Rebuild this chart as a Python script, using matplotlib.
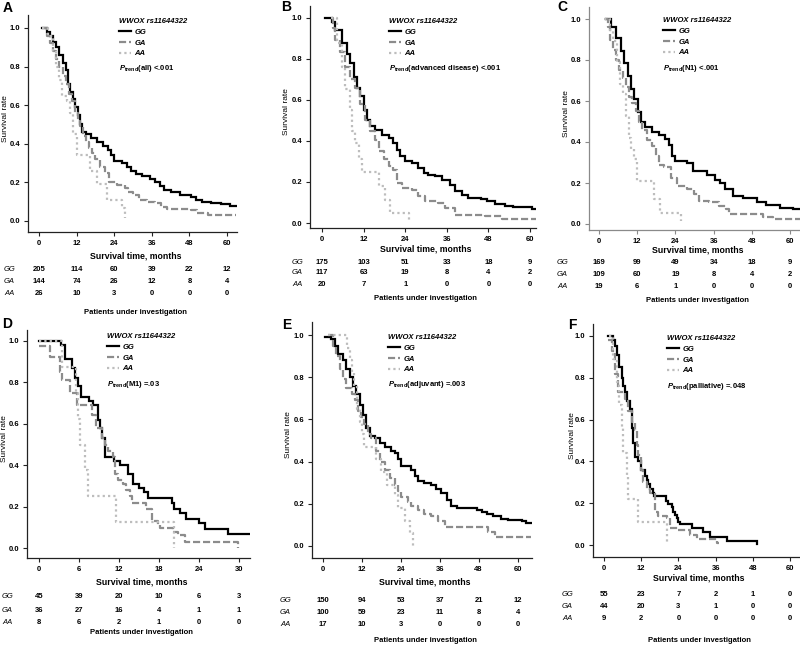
import matplotlib
matplotlib.use("Agg")
import matplotlib.pyplot as plt
from matplotlib.transforms import blended_transform_factory

plt.rcParams['font.family'] = ['Liberation Sans', 'DejaVu Sans']
plt.rcParams['mathtext.fontset'] = 'custom'
plt.rcParams['mathtext.it'] = 'Liberation Sans:italic:bold'
plt.rcParams['mathtext.rm'] = 'Liberation Sans:bold'

W, H = 800, 646

genotypes = ["GG", "GA", "AA"]
snp_title = "WWOX rs11644322"

# ---------------- A: all patients
a_gg_t = [1.0, 2.5, 3.5, 4.5, 5.5, 6.5, 7.5, 8.5, 9.3, 10.0, 10.8, 11.5, 12.3, 13.0, 13.8, 15.0, 16.5, 18.5, 20.5,
          22.0, 23.0, 24.0, 26.5, 28.0, 29.5, 31.0, 33.0, 35.5, 37.0, 38.5, 40.0, 42.0, 45.0, 48.5, 50.0, 52.0, 55.0,
          58.0, 61.0, 63.0]
a_gg_s = [1.0, 0.98, 0.96, 0.93, 0.90, 0.86, 0.82, 0.78, 0.71, 0.67, 0.63, 0.59, 0.55, 0.50, 0.46, 0.45, 0.43, 0.41,
          0.39, 0.37, 0.34, 0.31, 0.30, 0.28, 0.26, 0.245, 0.235, 0.22, 0.20, 0.18, 0.16, 0.15, 0.135, 0.125, 0.11,
          0.10, 0.095, 0.088, 0.078, 0.078]
a_ga_t = [1.0, 2.5, 3.5, 4.5, 5.5, 6.5, 7.5, 8.5, 9.5, 10.5, 11.5, 12.3, 13.0, 14.0, 15.0, 16.0, 17.0, 18.0, 19.5,
          21.0, 22.5, 25.0, 27.5, 28.5, 30.0, 32.0, 34.5, 37.0, 39.0, 41.0, 48.5, 50.5, 54.0, 63.0]
a_ga_s = [1.0, 0.96, 0.92, 0.88, 0.84, 0.80, 0.75, 0.71, 0.66, 0.62, 0.56, 0.52, 0.49, 0.44, 0.41, 0.38, 0.35, 0.32,
          0.28, 0.25, 0.20, 0.185, 0.17, 0.15, 0.135, 0.11, 0.10, 0.095, 0.074, 0.062, 0.057, 0.043, 0.031, 0.031]
a_aa_t = [1.0, 3.0, 4.5, 5.5, 6.5, 7.2, 8.8, 9.8, 10.9, 12.0, 16.2, 18.4, 21.6, 26.4, 27.4]
a_aa_s = [1.0, 0.96, 0.88, 0.80, 0.73, 0.65, 0.62, 0.56, 0.45, 0.34, 0.26, 0.19, 0.11, 0.065, 0.014]
a_risk = {"GG": [205, 114, 60, 39, 22, 12], "GA": [144, 74, 26, 12, 8, 4], "AA": [26, 10, 3, 0, 0, 0]}

# ---------------- B: advanced disease
b_gg_t = [1.0, 2.9, 3.8, 5.8, 7.2, 8.2, 9.1, 10.1, 11.0, 12.0, 13.0, 13.9, 15.4, 17.3, 19.2, 20.6, 21.6, 22.6, 24.0,
          26.0, 27.8, 29.3, 30.7, 32.6, 34.5, 37.0, 38.4, 40.3, 42.2, 46.0, 47.5, 50.0, 52.8, 55.0, 60.5, 62.0]
b_gg_s = [1.0, 0.98, 0.94, 0.875, 0.82, 0.78, 0.71, 0.656, 0.616, 0.55, 0.50, 0.47, 0.454, 0.43, 0.413, 0.39, 0.357,
          0.324, 0.30, 0.29, 0.267, 0.243, 0.235, 0.227, 0.21, 0.186, 0.154, 0.138, 0.12, 0.117, 0.105, 0.094, 0.084,
          0.076, 0.068, 0.068]
b_ga_t = [2.9, 3.3, 3.8, 5.3, 6.7, 8.2, 9.6, 11.0, 12.5, 13.9, 15.4, 16.3, 17.8, 19.2, 20.6, 21.6, 23.0, 26.0, 27.8,
          29.8, 33.6, 35.5, 38.4, 47.0, 51.8, 62.0]
b_ga_s = [1.0, 0.95, 0.89, 0.83, 0.76, 0.70, 0.656, 0.58, 0.50, 0.446, 0.405, 0.35, 0.31, 0.276, 0.26, 0.195, 0.17,
          0.162, 0.13, 0.105, 0.097, 0.073, 0.04, 0.032, 0.021, 0.021]
b_aa_t = [2.5, 4.3, 5.8, 6.7, 8.2, 8.6, 9.6, 10.6, 11.5, 16.3, 18.2, 19.7, 25.0]
b_aa_s = [1.0, 0.875, 0.76, 0.65, 0.55, 0.45, 0.39, 0.31, 0.25, 0.18, 0.113, 0.05, 0.008]
b_risk = {"GG": [175, 103, 51, 33, 18, 9], "GA": [117, 63, 19, 8, 4, 2], "AA": [20, 7, 1, 0, 0, 0]}

# ---------------- C: N1
c_gg_t = [2.3, 3.8, 5.4, 6.9, 7.9, 9.0, 10.0, 11.0, 12.1, 13.1, 14.6, 16.7, 18.8, 20.8, 21.9, 22.9, 23.8, 27.5, 29.6,
          33.8, 36.4, 38.0, 39.5, 42.1, 45.3, 49.5, 52.6, 56.8, 61.0, 63.0]
c_gg_s = [1.0, 0.963, 0.907, 0.843, 0.786, 0.722, 0.658, 0.61, 0.545, 0.497, 0.473, 0.449, 0.433, 0.417, 0.385, 0.33,
          0.305, 0.298, 0.257, 0.241, 0.217, 0.20, 0.169, 0.137, 0.126, 0.105, 0.093, 0.08, 0.072, 0.072]
c_ga_t = [1.8, 2.8, 3.3, 4.3, 5.4, 6.4, 7.4, 8.5, 9.5, 10.5, 11.5, 12.6, 13.6, 15.2, 16.7, 18.0, 18.9, 20.5, 22.5,
          24.5, 27.7, 29.8, 31.4, 34.6, 37.7, 39.8, 40.9, 51.4, 54.6, 63.0]
c_ga_s = [1.0, 0.96, 0.90, 0.85, 0.80, 0.75, 0.71, 0.67, 0.62, 0.59, 0.55, 0.50, 0.46, 0.41, 0.38, 0.33, 0.29, 0.28,
          0.225, 0.185, 0.169, 0.145, 0.113, 0.105, 0.089, 0.072, 0.048, 0.032, 0.024, 0.024]
c_aa_t = [1.5, 3.5, 4.5, 5.5, 6.5, 7.5, 8.5, 9.5, 10.2, 11.0, 11.8, 17.3, 19.3, 25.8]
c_aa_s = [1.0, 0.947, 0.895, 0.79, 0.684, 0.632, 0.526, 0.421, 0.368, 0.316, 0.21, 0.12, 0.056, 0.015]
c_risk = {"GG": [169, 99, 49, 34, 18, 9], "GA": [109, 60, 19, 8, 4, 2], "AA": [19, 6, 1, 0, 0, 0]}

# ---------------- D: M1
d_gg_t = [0, 3.3, 3.9, 4.9, 5.4, 5.9, 6.3, 7.5, 8.1, 8.9, 9.1, 9.5, 9.9, 11.2, 12.1, 13.3, 14.1, 15.0, 15.8, 16.4,
          20.0, 20.3, 21.2, 22.0, 24.0, 24.9, 28.4, 31.6]
d_gg_s = [1.0, 0.98, 0.91, 0.87, 0.82, 0.78, 0.73, 0.71, 0.69, 0.62, 0.58, 0.53, 0.44, 0.42, 0.40, 0.36, 0.31, 0.29,
          0.27, 0.24, 0.22, 0.19, 0.17, 0.14, 0.12, 0.095, 0.07, 0.07]
d_ga_t = [0, 1.7, 3.1, 3.4, 4.6, 5.7, 7.9, 8.6, 9.4, 9.9, 10.4, 11.1, 11.4, 11.9, 12.6, 13.1, 13.6, 13.9, 16.1, 16.9,
          17.9, 18.1, 20.1, 20.9, 21.9, 29.9]
d_ga_s = [0.975, 0.92, 0.85, 0.81, 0.75, 0.69, 0.64, 0.58, 0.53, 0.50, 0.47, 0.44, 0.36, 0.33, 0.31, 0.28, 0.25, 0.22,
          0.19, 0.13, 0.11, 0.096, 0.08, 0.064, 0.032, 0.0]
d_aa_t = [0, 3.4, 5.5, 5.9, 6.1, 6.9, 7.4, 11.5, 20.2]
d_aa_s = [1.0, 0.875, 0.75, 0.625, 0.5, 0.375, 0.25, 0.125, 0.0]
d_risk = {"GG": [45, 39, 20, 10, 6, 3], "GA": [36, 27, 16, 4, 1, 1], "AA": [8, 6, 2, 1, 0, 0]}

# ---------------- E: adjuvant
e_gg_t = [0.5, 2.6, 3.6, 4.7, 6.2, 7.2, 8.3, 9.3, 10.3, 11.4, 12.4, 13.4, 14.5, 16.0, 17.6, 19.0, 21.1, 22.1, 23.2,
          24.2, 27.3, 28.3, 29.4, 31.3, 33.4, 34.9, 36.5, 38.1, 39.6, 41.2, 47.5, 49.0, 50.5, 52.5, 55.0, 57.0, 61.5,
          62.5, 64.3]
e_gg_s = [0.99, 0.98, 0.95, 0.91, 0.88, 0.84, 0.80, 0.76, 0.72, 0.67, 0.62, 0.56, 0.52, 0.51, 0.49, 0.47, 0.45, 0.44,
          0.41, 0.38, 0.36, 0.33, 0.31, 0.30, 0.29, 0.27, 0.25, 0.22, 0.19, 0.18, 0.17, 0.16, 0.15, 0.14, 0.13, 0.125,
          0.12, 0.11, 0.11]
e_ga_t = [1.5, 3.1, 4.1, 5.2, 6.2, 7.2, 8.8, 9.8, 10.8, 11.8, 12.8, 13.9, 14.9, 16.5, 17.6, 19.0, 20.6, 22.1, 23.2,
          24.2, 26.3, 27.3, 29.4, 31.3, 33.4, 35.5, 37.5, 51.0, 53.0, 64.3]
e_ga_s = [1.0, 0.95, 0.90, 0.84, 0.79, 0.75, 0.72, 0.69, 0.64, 0.61, 0.58, 0.53, 0.51, 0.45, 0.40, 0.36, 0.32, 0.29,
          0.26, 0.23, 0.21, 0.19, 0.17, 0.15, 0.14, 0.12, 0.092, 0.067, 0.045, 0.045]
e_aa_t = [1.5, 7.5, 8.3, 8.8, 9.5, 10.5, 11.5, 12.0, 12.5, 16.5, 18.0, 19.6, 22.3, 23.2, 25.2, 26.8, 27.8]
e_aa_s = [1.0, 0.94, 0.88, 0.82, 0.76, 0.65, 0.59, 0.53, 0.47, 0.41, 0.35, 0.29, 0.24, 0.18, 0.12, 0.06, 0.0]
e_risk = {"GG": [150, 94, 53, 37, 21, 12], "GA": [100, 59, 23, 11, 8, 4], "AA": [17, 10, 3, 0, 0, 0]}

# ---------------- F: palliative
f_gg_t = [1.4, 3.0, 3.5, 4.1, 4.9, 5.7, 6.2, 6.8, 7.3, 8.4, 8.9, 9.5, 10.0, 11.1, 11.9, 13.2, 13.8, 14.3, 14.8, 15.7,
          16.1, 20.0, 20.8, 21.8, 22.4, 22.9, 23.4, 24.0, 24.5, 28.3, 32.0, 34.2, 39.6, 49.2]
f_gg_s = [1.0, 0.98, 0.95, 0.91, 0.85, 0.80, 0.76, 0.73, 0.69, 0.65, 0.56, 0.49, 0.42, 0.40, 0.36, 0.33, 0.31, 0.29,
          0.27, 0.25, 0.235, 0.21, 0.195, 0.18, 0.16, 0.145, 0.13, 0.11, 0.10, 0.08, 0.06, 0.04, 0.02, 0.005]
f_ga_t = [1.4, 2.5, 3.5, 4.6, 6.8, 7.8, 8.9, 10.0, 10.5, 11.1, 11.9, 12.7, 13.8, 14.8, 16.5, 17.5, 20.2, 21.3, 24.0,
          27.7, 29.9, 36.3, 37.0]
f_ga_s = [0.98, 0.93, 0.82, 0.73, 0.70, 0.64, 0.59, 0.55, 0.48, 0.43, 0.36, 0.30, 0.27, 0.25, 0.16, 0.14, 0.13, 0.08,
          0.07, 0.05, 0.03, 0.01, 0.01]
f_aa_t = [1.5, 3.0, 4.3, 4.9, 5.7, 6.2, 7.3, 7.6, 11.1, 20.2]
f_aa_s = [1.0, 0.89, 0.78, 0.67, 0.56, 0.44, 0.33, 0.22, 0.11, 0.015]
f_risk = {"GG": [55, 23, 7, 2, 1, 0], "GA": [44, 20, 3, 1, 0, 0], "AA": [9, 2, 0, 0, 0, 0]}

ticks_60 = [0, 12, 24, 36, 48, 60]
ticks_30 = [0, 6, 12, 18, 24, 30]

panels = [
    dict(letter="A", group="all", p="<.001", ticks=ticks_60, risk=a_risk,
         curves=[(a_gg_t, a_gg_s), (a_ga_t, a_ga_s), (a_aa_t, a_aa_s)]),
    dict(letter="B", group="advanced disease", p="<.001", ticks=ticks_60, risk=b_risk,
         curves=[(b_gg_t, b_gg_s), (b_ga_t, b_ga_s), (b_aa_t, b_aa_s)]),
    dict(letter="C", group="N1", p="<.001", ticks=ticks_60, risk=c_risk,
         curves=[(c_gg_t, c_gg_s), (c_ga_t, c_ga_s), (c_aa_t, c_aa_s)]),
    dict(letter="D", group="M1", p="=.03", ticks=ticks_30, risk=d_risk,
         curves=[(d_gg_t, d_gg_s), (d_ga_t, d_ga_s), (d_aa_t, d_aa_s)]),
    dict(letter="E", group="adjuvant", p="=.003", ticks=ticks_60, risk=e_risk,
         curves=[(e_gg_t, e_gg_s), (e_ga_t, e_ga_s), (e_aa_t, e_aa_s)]),
    dict(letter="F", group="palliative", p="=.048", ticks=ticks_60, risk=f_risk,
         curves=[(f_gg_t, f_gg_s), (f_ga_t, f_ga_s), (f_aa_t, f_aa_s)]),
]

# layout in pixels: axes box (l, t, r, b), x of first/last tick, y of 1.0 / 0.0,
# letter, ylabel x, legend (x, y), xlabel y, table rows y, footer y, row label x
layouts = [
    dict(box=(28, 15, 237, 232), xt=(39, 227), yt=(28, 221), letter=(8, 8), ylab=6, leg=(119, 18),
         xlab=256, rows=(270, 282, 294), foot=312, rowx=4, spine="#222222"),
    dict(box=(310, 6, 536, 228), xt=(322, 530), yt=(17.5, 223), letter=(286, 7), ylab=287, leg=(389, 18),
         xlab=249, rows=(262, 273, 285), foot=298, rowx=292, spine="#222222"),
    dict(box=(589, 7, 800, 230), xt=(599, 790), yt=(19, 224), letter=(562, 7), ylab=566, leg=(663, 17),
         xlab=250, rows=(263, 275, 287), foot=300, rowx=557, spine="#8a8a8a"),
    dict(box=(27, 330, 250, 558), xt=(39, 239), yt=(340.7, 548.3), letter=(7, 324), ylab=5, leg=(107, 333),
         xlab=582, rows=(597, 610, 623), foot=632, rowx=2, spine="#222222"),
    dict(box=(312, 322, 532, 558), xt=(323, 517.5), yt=(335, 546), letter=(287, 325), ylab=288, leg=(388, 334),
         xlab=582, rows=(600, 612, 624), foot=641, rowx=280, spine="#222222"),
    dict(box=(593, 324, 799, 557), xt=(604, 790), yt=(336, 545), letter=(572, 325), ylab=572, leg=(667, 335),
         xlab=578, rows=(595, 607, 619), foot=641, rowx=562, spine="#222222"),
]

styles = [dict(color="black", lw=1.6, ls="-"),
          dict(color="#8c8c8c", lw=1.6, ls=(0, (3.2, 1.3))),
          dict(color="#bdbdbd", lw=1.6, ls=(0, (1, 1.4)))]

fig = plt.figure(figsize=(W / 100, H / 100), dpi=100)


def fy(py):
    return 1 - py / H


for pan, lay in zip(panels, layouts):
    l, t, r, b = lay["box"]
    ax = fig.add_axes([l / W, fy(b), (r - l) / W, (b - t) / H])
    xmax_tick = pan["ticks"][-1]
    x0, x1 = lay["xt"]
    y1, y0 = lay["yt"]
    ax.set_xlim((l - x0) / (x1 - x0) * xmax_tick, (r - x0) / (x1 - x0) * xmax_tick)
    ax.set_ylim((y0 - b) / (y0 - y1), (y0 - t) / (y0 - y1))

    handles = []
    for (tt, ss), st, g in zip(pan["curves"], styles, genotypes):
        h, = ax.plot(tt, ss, drawstyle="steps-post", color=st["color"], lw=st["lw"],
                     linestyle=st["ls"], solid_joinstyle="miter", label=g)
        handles.append(h)

    for side in ("top", "right"):
        ax.spines[side].set_visible(False)
    for side in ("left", "bottom"):
        ax.spines[side].set_color(lay["spine"])
        ax.spines[side].set_linewidth(0.9)
    ax.set_xticks(pan["ticks"])
    ax.set_yticks([0, 0.2, 0.4, 0.6, 0.8, 1.0])
    ax.set_yticklabels(["0.0", "0.2", "0.4", "0.6", "0.8", "1.0"])
    ax.tick_params(direction="out", length=3, width=0.8, color=lay["spine"], labelsize=5.5, pad=2.5)
    for lab in ax.get_xticklabels() + ax.get_yticklabels():
        lab.set_fontweight("bold")

    # panel letter
    fig.text(lay["letter"][0] / W, fy(lay["letter"][1]), pan["letter"], fontsize=10, fontweight="bold",
             ha="center", va="center")
    # y label
    fig.text(lay["ylab"] / W, fy((t + b) / 2 - 5), "Survival rate", rotation=90, fontsize=6,
             ha="center", va="center")
    # x label
    fig.text(((l + r) / 2 + 3) / W, fy(lay["xlab"]), "Survival time, months", fontsize=6.3,
             fontweight="bold", ha="center", va="center")

    # legend
    lx, ly = lay["leg"]
    ax.legend(handles=handles, loc="upper left", bbox_to_anchor=(lx / W, fy(ly)),
              bbox_transform=fig.transFigure, frameon=False, title=snp_title,
              prop=dict(size=5.5, style="italic", weight="bold"),
              title_fontproperties=dict(size=5.5, style="italic", weight="bold"),
              borderpad=0, borderaxespad=0, handlelength=1.6, handletextpad=0.4,
              labelspacing=0.45, alignment="left")
    fig.text(lx / W, fy(ly + 51), r"$\mathit{P}_{\mathrm{trend}}$(" + pan["group"] + ") " + pan["p"],
             fontsize=5.5, fontweight="bold", ha="left", va="center")

    # numbers at risk
    trans = blended_transform_factory(ax.transData, fig.transFigure)
    for g, ry in zip(genotypes, lay["rows"]):
        fig.text(lay["rowx"] / W, fy(ry), g, fontsize=5.5, style="italic", ha="left", va="center")
        for tk, n in zip(pan["ticks"], pan["risk"][g]):
            ax.text(tk, fy(ry), str(n), transform=trans, fontsize=5.5, fontweight="bold",
                    ha="center", va="center", clip_on=False)
    fig.text(((l + r) / 2 + 3) / W, fy(lay["foot"]), "Patients under investigation", fontsize=5.5,
             fontweight="bold", ha="center", va="center")

fig.savefig("out.png", dpi=100)
